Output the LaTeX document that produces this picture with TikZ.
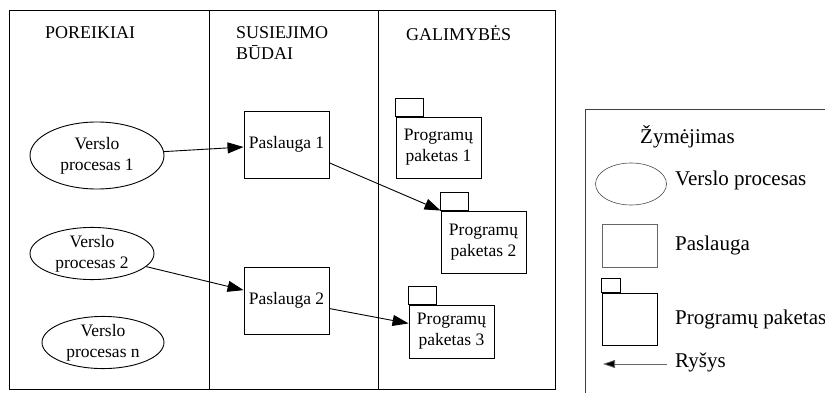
\documentclass[tikz,border=0pt]{standalone}
\usepackage{fontspec}
\setmainfont{Liberation Serif}
\usetikzlibrary{shapes.geometric,arrows.meta}

\begin{document}
\begin{tikzpicture}[x=1pt,y=-1pt,
    every node/.style={inner sep=0pt,font=\fontsize{17.5}{21}\selectfont},
    procesas/.style={draw,line width=0.9pt,ellipse,align=center},
    paslauga/.style={draw,line width=0.9pt,rectangle,minimum width=85pt,minimum height=67pt},
    paketas/.style={draw,line width=0.9pt,rectangle,align=center,minimum width=85pt,minimum height=61pt},
    antraste/.style={anchor=west,align=left,font=\fontsize{18}{21}\selectfont},
    zenklas/.style={anchor=west,font=\fontsize{21}{25}\selectfont},
    rysys/.style={line width=0.9pt,-{Triangle[length=16pt,width=11pt]}}]
    \useasboundingbox (0,0) rectangle (825,393);
    % stulpeliai
    \draw [line width=0.9pt] (9,10) rectangle (555,389);
    \draw [line width=0.9pt] (209,10) -- (209,389);
    \draw [line width=0.9pt] (378,10) -- (378,389);
    \node (h1) [antraste] at (45,33) {POREIKIAI};
    \node (h2) [antraste] at (236,43) {SUSIEJIMO\\BŪDAI};
    \node (h3) [antraste] at (406,33) {GALIMYBĖS};
    % verslo procesai
    \node (e1) [procesas,minimum width=134pt,minimum height=67pt] at (97,155.5) {Verslo\\procesas 1};
    \node (e2) [procesas,minimum width=124pt,minimum height=49pt] at (92,253.5) {Verslo\\procesas 2};
    \node (en) [procesas,minimum width=122pt,minimum height=49pt] at (103,342.5) {Verslo\\procesas n};
    % paslaugos
    \node (s1) [paslauga] at (286.5,144.5) {Paslauga 1};
    \node (s2) [paslauga] at (286.5,300.5) {Paslauga 2};
    % programu paketai
    \node (pk1) [paketas] at (438.5,147.5) {Programų\\paketas 1};
    \node (pk2) [paketas,minimum height=62pt] at (483.5,242) {Programų\\paketas 2};
    \node (pk3) [paketas,minimum height=53pt] at (451.5,331.5) {Programų\\paketas 3};
    \foreach \p in {pk1,pk2,pk3}
        \draw [line width=0.9pt] (\p.north west) rectangle ++(28,-18);
    % rysiai
    \draw [rysys] (e1) -- (s1);
    \draw [rysys] (s1) -- (pk2.north west);
    \draw [rysys] (e2) -- (s2);
    \draw [rysys] (s2) -- (pk3);
    % zymejimas
    \draw [line width=0.8pt,black!75] (825,109) -- (585,109) -- (585,393);
    \node (lgtitle) [zenklas] at (640,137) {Žymėjimas};
    \node (lgproc) [procesas,line width=0.6pt,black!70,minimum width=71pt,minimum height=42pt] at (631,184) {};
    \node [zenklas] at (675,180) {Verslo procesas};
    \node (lgpasl) [draw,line width=0.6pt,black!60,minimum width=55pt,minimum height=43pt] at (629.5,245.5) {};
    \node [zenklas] at (675,245) {Paslauga};
    \node (lgpak) [draw,line width=0.9pt,minimum width=55pt,minimum height=52pt] at (629.5,319) {};
    \draw [line width=0.9pt] (lgpak.north west) rectangle ++(19,-14);
    \node [zenklas] at (675,319) {Programų paketas};
    \coordinate (lgrelstart) at (667,364);
    \coordinate (lgrelend) at (603,364);
    \draw [line width=0.8pt,black!60,-{Triangle[length=12pt,width=8pt,fill=black]}] (lgrelstart) -- (lgrelend);
    \node [zenklas] at (675,362) {Ryšys};
\end{tikzpicture}
\end{document}
